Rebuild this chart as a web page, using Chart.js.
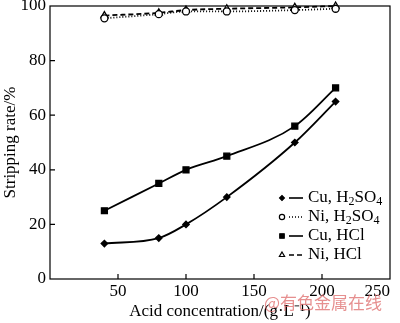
<!DOCTYPE html>
<html>
<head>
<meta charset="utf-8">
<script src="https://cdn.jsdelivr.net/npm/chart.js@4"></script>
<style>
  html, body { margin: 0; padding: 0; background: #fff; }
  #wrap { position: relative; width: 400px; height: 323px; }
  #mark { position: absolute; left: 264px; top: 292px; font: 17px "Noto Sans CJK SC"; line-height: 20px; color: rgba(222, 105, 105, 0.75); }
</style>
</head>
<body>
<div id="wrap">
  <canvas id="c" width="400" height="323"></canvas>
  <div id="mark">@有色金属在线</div>
</div>
<script>
/* stripping rate vs acid concentration */
const concentration = [40, 80, 100, 130, 180, 210];
const cuH2SO4 = [13, 15, 20, 30, 50, 65];
const niH2SO4 = [95.5, 97, 98, 98, 98.5, 99];
const cuHCl   = [25, 35, 40, 45, 56, 70];
const niHCl   = [96.5, 97.5, 98.5, 99, 99.5, 100];
const xTicks = [0, 50, 100, 150, 200, 250];
const yTicks = [0, 20, 40, 60, 80, 100];

const FONT = 'Liberation Serif';
const pts = arr => concentration.map((c, i) => ({ x: c, y: arr[i] }));

const series = [
  { parts: [['Cu, H'], ['2', 1], ['SO'], ['4', 1]], data: cuH2SO4, style: 'rectRot', r: 3.2, fill: '#000', dash: [], tension: 0.3 },
  { parts: [['Ni, H'], ['2', 1], ['SO'], ['4', 1]], data: niH2SO4, style: 'circle', r: 3.5, fill: '#fff', dash: [1, 2], tension: 0 },
  { parts: [['Cu, HCl']], data: cuHCl, style: 'rect', r: 4.2, fill: '#000', dash: [], tension: 0.2 },
  { parts: [['Ni, HCl']], data: niHCl, style: 'triangle', r: 4, fill: '#fff', dash: [5, 3], tension: 0 }
];

function drawRich(ctx, parts, x, y) {
  parts.forEach(([t, sub]) => {
    ctx.font = (sub ? 12 : 17) + 'px ' + FONT;
    ctx.fillText(t, x, sub ? y + 4 : y);
    x += ctx.measureText(t).width;
  });
}

const framePlugin = {
  id: 'frame',
  beforeDatasetsDraw(chart) {
    const { ctx, chartArea: a, scales: { x, y } } = chart;
    ctx.save();
    ctx.strokeStyle = '#000';
    ctx.lineWidth = 1.2;
    ctx.strokeRect(a.left, a.top, a.right - a.left, a.bottom - a.top);
    ctx.beginPath();
    xTicks.slice(1, -1).forEach(v => {
      const px = x.getPixelForValue(v);
      ctx.moveTo(px, a.bottom); ctx.lineTo(px, a.bottom - 5);
    });
    yTicks.slice(1, -1).forEach(v => {
      const py = y.getPixelForValue(v);
      ctx.moveTo(a.left, py); ctx.lineTo(a.left + 5, py);
    });
    ctx.stroke();
    ctx.restore();
  },
  afterDraw(chart) {
    const { ctx, chartArea: a } = chart;
    const mx = a.right - 108, ly = a.bottom - 81;
    ctx.save();
    series.forEach((s, i) => {
      const yy = ly + i * 19;
      ctx.strokeStyle = '#000';
      ctx.lineWidth = 1.6;
      ctx.setLineDash(s.dash);
      ctx.beginPath(); ctx.moveTo(mx + 7, yy); ctx.lineTo(mx + 21, yy); ctx.stroke();
      ctx.setLineDash([]);
      ctx.lineWidth = 1.2;
      ctx.fillStyle = s.fill;
      Chart.helpers.drawPoint(ctx, { pointStyle: s.style, radius: s.r * 0.75, rotation: 0, borderWidth: 1.2 }, mx, yy);
      if (s.fill === '#000') ctx.fill();
      ctx.fillStyle = '#000';
      ctx.textBaseline = 'middle';
      drawRich(ctx, s.parts, mx + 26, yy);
    });
    ctx.restore();
  }
};

new Chart(document.getElementById('c'), {
  type: 'line',
  data: {
    datasets: series.map(s => ({
      data: pts(s.data),
      borderColor: '#000',
      borderWidth: 1.8,
      borderDash: s.dash,
      backgroundColor: s.fill,
      pointStyle: s.style,
      pointRadius: s.r,
      pointBorderWidth: 1.3,
      pointBorderColor: '#000',
      pointBackgroundColor: s.fill,
      tension: s.tension,
      cubicInterpolationMode: 'monotone',
      clip: false
    }))
  },
  options: {
    responsive: false,
    animation: false,
    layout: { padding: { top: 6, right: 10, left: 0, bottom: 0 } },
    plugins: { legend: { display: false }, tooltip: { enabled: false } },
    scales: {
      x: {
        type: 'linear', min: 0, max: 250,
        afterBuildTicks: s => { s.ticks = xTicks.map(v => ({ value: v })); },
        afterFit: s => { s.height = 44; s.paddingLeft = 0; s.paddingRight = 0; },
        grid: { display: false, drawTicks: false },
        border: { display: false },
        ticks: { color: '#000', padding: 2, align: 'inner', font: { family: FONT, size: 17 }, callback: v => v === 0 ? '' : v },
        title: { display: true, text: 'Acid concentration/(g·L⁻¹)', color: '#000', padding: { top: 0, bottom: 1 }, font: { family: FONT, size: 17 } }
      },
      y: {
        min: 0, max: 100,
        afterBuildTicks: s => { s.ticks = yTicks.map(v => ({ value: v })); },
        afterFit: s => { s.width = 50; s.paddingTop = 0; s.paddingBottom = 0; },
        grid: { display: false, drawTicks: false },
        border: { display: false },
        ticks: { color: '#000', padding: 4, font: { family: FONT, size: 17 } },
        title: { display: true, text: 'Stripping rate/%', color: '#000', padding: { top: 0, bottom: 0 }, font: { family: FONT, size: 17 } }
      }
    }
  },
  plugins: [framePlugin]
});
</script>
</body>
</html>
